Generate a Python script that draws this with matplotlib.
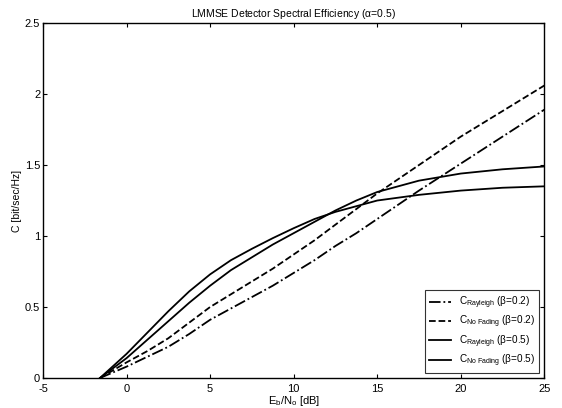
import matplotlib
matplotlib.use("Agg")
import matplotlib.pyplot as plt

plt.rcParams['font.family'] = ['Liberation Sans', 'DejaVu Sans']
plt.rcParams['mathtext.fontset'] = 'custom'
plt.rcParams['mathtext.rm'] = 'Liberation Sans'
plt.rcParams['mathtext.it'] = 'Liberation Sans'

ebno = [-1.59, 0, 1.25, 2.5, 3.75, 5, 6.25, 7.5, 8.75, 10, 11.25, 12.5, 13.75, 15, 17.5, 20, 22.5, 25]
c_ray_02 = [0, 0.08, 0.15, 0.22, 0.31, 0.41, 0.49, 0.57, 0.65, 0.74, 0.83, 0.93, 1.02, 1.12, 1.32, 1.51, 1.70, 1.89]
c_nof_02 = [0, 0.11, 0.19, 0.28, 0.39, 0.50, 0.59, 0.68, 0.77, 0.87, 0.97, 1.08, 1.19, 1.30, 1.50, 1.70, 1.88, 2.06]
c_ray_05 = [0, 0.17, 0.32, 0.47, 0.61, 0.73, 0.83, 0.91, 0.985, 1.055, 1.12, 1.17, 1.21, 1.25, 1.29, 1.32, 1.34, 1.35]
c_nof_05 = [0, 0.14, 0.27, 0.40, 0.53, 0.65, 0.76, 0.85, 0.94, 1.02, 1.10, 1.18, 1.25, 1.31, 1.39, 1.44, 1.47, 1.49]

labels = [r'$C_{Rayleigh}$ ($\beta$=0.2)', r'$C_{No\ Fading}$ ($\beta$=0.2)',
          r'$C_{Rayleigh}$ ($\beta$=0.5)', r'$C_{No\ Fading}$ ($\beta$=0.5)']

fig = plt.figure(figsize=(5.62, 4.08), dpi=100)
ax = fig.add_axes([0.0765, 0.0735, 0.892, 0.870])
ax.plot(ebno, c_ray_02, color='black', lw=1.3, ls='-.', label=labels[0])
ax.plot(ebno, c_nof_02, color='black', lw=1.3, ls='--', label=labels[1])
ax.plot(ebno, c_ray_05, color='black', lw=1.3, ls='-', label=labels[2])
ax.plot(ebno, c_nof_05, color='black', lw=1.3, ls='-', label=labels[3])

ax.set_xlim(-5, 25)
ax.set_ylim(0, 2.5)
ax.set_xticks([-5, 0, 5, 10, 15, 20, 25])
ax.set_yticks([0, 0.5, 1, 1.5, 2, 2.5])
ax.set_xticklabels(['-5', '0', '5', '10', '15', '20', '25'])
ax.set_yticklabels(['0', '0.5', '1', '1.5', '2', '2.5'])
ax.tick_params(direction='in', top=True, right=True, labelsize=8, length=3, width=0.8)
ax.tick_params(axis='x', pad=4)
ax.tick_params(axis='y', pad=2)
for s in ax.spines.values():
    s.set_linewidth(1.0)
ax.set_title(r'LMMSE Detector Spectral Efficiency ($\alpha$=0.5)', fontsize=7.5, pad=4)
ax.set_xlabel(r'E$_b$/N$_o$ [dB]', fontsize=8, labelpad=0)
ax.set_ylabel('C [bit/sec/Hz]', fontsize=7.5, labelpad=2)
leg = ax.legend(loc='lower right', fontsize=7.2, frameon=True, fancybox=False,
                edgecolor='black', handlelength=2.2, borderaxespad=0.5,
                labelspacing=0.3)
leg.get_frame().set_linewidth(0.8)
fig.savefig('out.png', dpi=100)
